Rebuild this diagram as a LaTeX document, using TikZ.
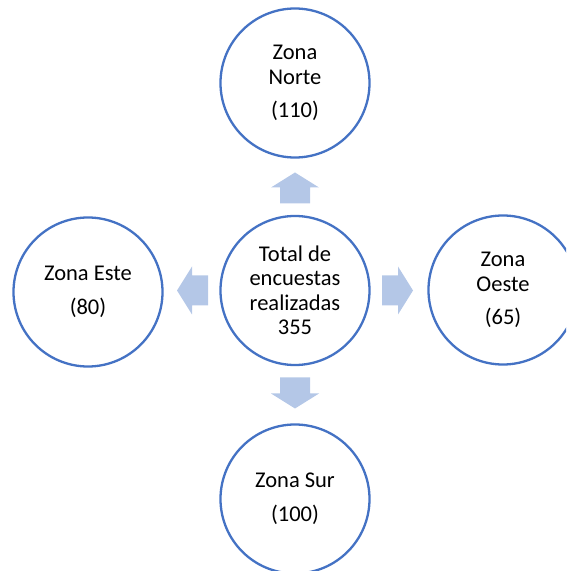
\documentclass[tikz,border=0pt]{standalone}
\usepackage{fontspec}
\setmainfont{Carlito}
\definecolor{ringblue}{HTML}{4472C4}
\definecolor{arrowblue}{HTML}{B4C7E7}
\tikzset{
  zone/.style={circle, draw=ringblue, line width=2.3pt, fill=white,
    minimum size=149pt, inner sep=0pt, align=center,
    font=\fontsize{22.5}{24.5}\selectfont},
  pics/blockarr/.style={code={
    \fill[arrowblue] (87,-15) -- (103,-15) -- (103,-24) -- (118,0)
      -- (103,24) -- (103,15) -- (87,15) -- cycle;
  }}
}
\begin{document}
\begin{tikzpicture}[x=1pt,y=1pt]
  \useasboundingbox (0,0) rectangle (566,571);
  \clip (0,0) rectangle (566,571);
  % hub and the four zones
  \node[zone] (total) at (295,280.5) {Total de\\encuestas\\realizadas\\355};
  \node[zone] (norte) at (295,488) {Zona\\Norte\\[9pt](110)};
  \node[zone] (este)  at (88,279)   {Zona Este\\[9pt](80)};
  \node[zone] (oeste) at (503,281)  {Zona\\Oeste\\[9pt](65)};
  \node[zone] (sur)   at (295,72)   {Zona Sur\\[9pt](100)};
  % block arrows pointing out from the hub
  \pic[rotate=90]  at (total.center) {blockarr};
  \pic[rotate=180] at (total.center) {blockarr};
  \pic[rotate=0]   at (total.center) {blockarr};
  \pic[rotate=-90] at (total.center) {blockarr};
\end{tikzpicture}
\end{document}
